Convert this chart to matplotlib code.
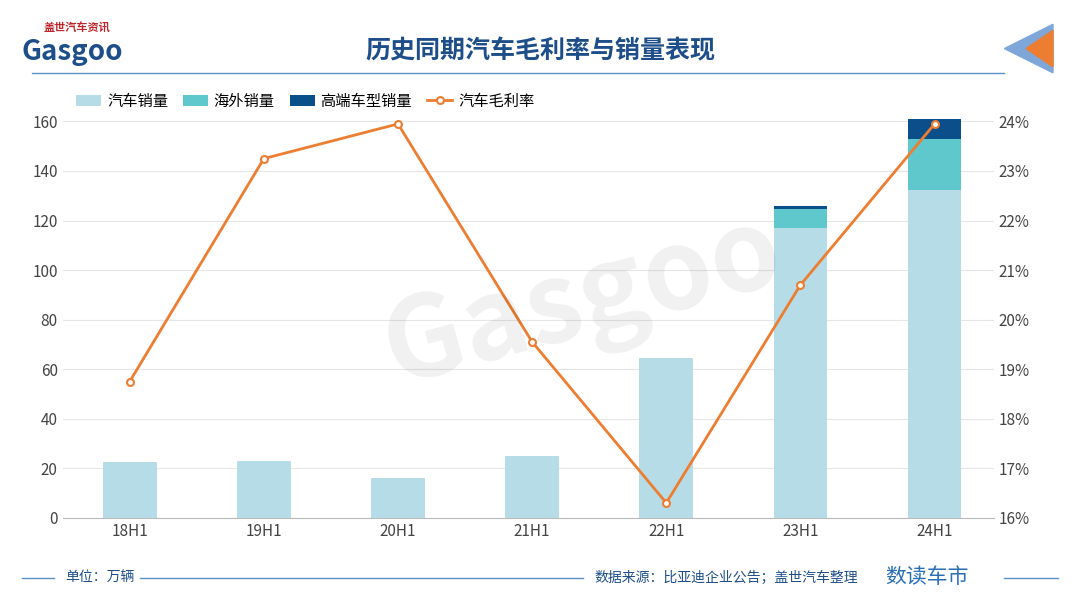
import matplotlib.pyplot as plt
from matplotlib.ticker import FuncFormatter

plt.rcParams['font.family'] = 'Noto Sans CJK SC'

periods = ['18H1', '19H1', '20H1', '21H1', '22H1', '23H1', '24H1']
car_sales = [22.5, 23, 16, 25, 64.5, 117, 132.5]
overseas = [0, 0, 0, 0, 0, 7.5, 20.5]
premium = [0, 0, 0, 0, 0, 1.2, 8.5]
margin = [18.75, 23.25, 23.95, 19.55, 16.3, 20.7, 23.95]

fig = plt.figure(figsize=(10.8, 6.07), dpi=100)
ax = fig.add_axes([0.058, 0.147, 0.862, 0.657])
x = range(len(periods))
ax.bar(x, car_sales, 0.4, color='#b6dde7', label='汽车销量', zorder=2)
ax.bar(x, overseas, 0.4, bottom=car_sales, color='#5ec8cc', label='海外销量', zorder=2)
bot2 = [a + b for a, b in zip(car_sales, overseas)]
ax.bar(x, premium, 0.4, bottom=bot2, color='#0b4f8a', label='高端车型销量', zorder=2)
ax.set_ylim(0, 161)
ax.set_yticks(range(0, 161, 20))
ax.set_xticks(list(x))
ax.set_xticklabels(periods)
ax.set_xlim(-0.5, 6.44)
ax.grid(axis='y', color='#e6e6e6', lw=0.8, zorder=0)
for s in ['top', 'right', 'left']:
    ax.spines[s].set_visible(False)
ax.spines['bottom'].set_color('#bbbbbb')
ax.tick_params(length=0, labelsize=11, colors='#444444')

ax2 = ax.twinx()
ax2.plot(x, margin, color='#ed7d31', lw=2, marker='o', ms=5, mfc='white', mew=1.5, label='汽车毛利率', zorder=3)
ax2.set_ylim(16, 24.05)
ax2.set_yticks(range(16, 25))
ax2.yaxis.set_major_formatter(FuncFormatter(lambda v, p: f'{v:.0f}%'))
for s in ['top', 'right', 'left', 'bottom']:
    ax2.spines[s].set_visible(False)
ax2.tick_params(length=0, labelsize=11, colors='#444444')

h1, l1 = ax.get_legend_handles_labels()
h2, l2 = ax2.get_legend_handles_labels()
ax.legend(h1 + h2, l1 + l2, loc='upper left', bbox_to_anchor=(0.0, 1.1), ncol=4,
          frameon=False, fontsize=11, handlelength=1.6, columnspacing=1.0, handletextpad=0.4)

# watermark
fig.text(0.54, 0.5, 'Gasgoo', fontsize=80, color='#000000', alpha=0.06, rotation=15,
         ha='center', va='center', fontweight='bold')

# header
fig.text(0.5, 0.915, '历史同期汽车毛利率与销量表现', ha='center', va='center', fontsize=18,
         fontweight='bold', color='#1d4e89')
fig.add_artist(plt.Line2D([0.03, 0.93], [0.88, 0.88], color='#5a8fc7', lw=1))
fig.text(0.02, 0.915, 'Gasgoo', fontsize=20, color='#1d4e89', fontstyle='italic', fontweight='bold', va='center')
fig.text(0.04, 0.955, '盖世汽车资讯', fontsize=8, color='#c0262d', fontweight='bold', va='center')
fig.add_artist(plt.Polygon([[0.93, 0.92], [0.975, 0.96], [0.975, 0.88]], color='#7ea6d8'))
fig.add_artist(plt.Polygon([[0.95, 0.92], [0.975, 0.95], [0.975, 0.89]], color='#ed7d31'))

# footer
fig.add_artist(plt.Line2D([0.02, 0.05], [0.048, 0.048], color='#5a8fc7', lw=1))
fig.add_artist(plt.Line2D([0.13, 0.54], [0.048, 0.048], color='#5a8fc7', lw=1))
fig.add_artist(plt.Line2D([0.93, 0.98], [0.048, 0.048], color='#5a8fc7', lw=1))
fig.text(0.06, 0.048, '单位：万辆', fontsize=10, fontstyle='italic', color='#1d4e89', va='center')
fig.text(0.55, 0.048, '数据来源：比亚迪企业公告；盖世汽车整理', fontsize=10, fontstyle='italic', color='#1d4e89', va='center')
fig.text(0.82, 0.05, '数读车市', fontsize=15, color='#2a6fb5', va='center')

fig.savefig('out.png', dpi=100, facecolor='white')
